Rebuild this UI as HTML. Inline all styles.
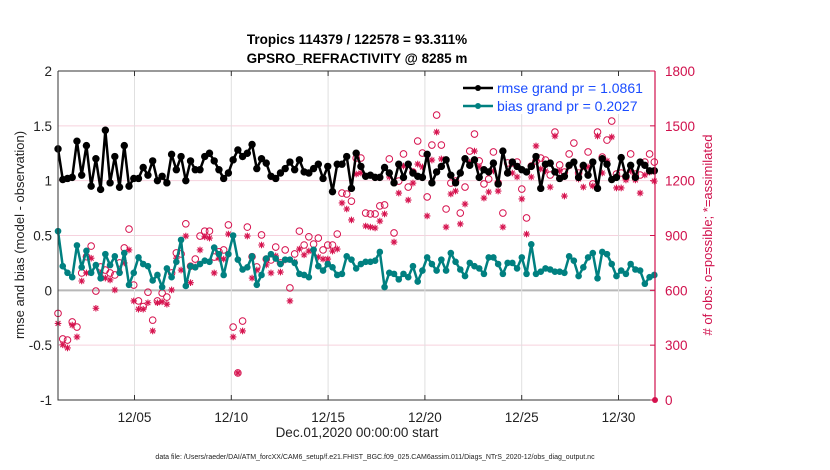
<!DOCTYPE html>
<html><head><meta charset="utf-8"><style>
html,body{margin:0;padding:0;background:#fff;}
svg{display:block;font-family:"Liberation Sans",Arial,sans-serif;}
</style></head><body>
<svg id="chart" width="830" height="470" viewBox="0 0 830 470" xmlns="http://www.w3.org/2000/svg">
<rect x="0" y="0" width="830" height="470" fill="#fff"/>
<rect x="58" y="71" width="597" height="329" fill="#fff" stroke="none"/>
<g id="grid"></g>
<g id="obs"></g>
<g id="series"></g>
<g id="axes"></g>
<text x="357" y="44" text-anchor="middle" font-size="13.5" font-weight="bold">Tropics 114379 / 122578 = 93.311%</text>
<text x="357" y="63" text-anchor="middle" font-size="13.5" font-weight="bold">GPSRO_REFRACTIVITY @ 8285 m</text>
<text transform="translate(24,235) rotate(-90)" text-anchor="middle" font-size="13" fill="#222">rmse and bias (model - observation)</text>
<text transform="translate(712,235) rotate(-90)" text-anchor="middle" font-size="13" fill="#d0104c"># of obs: o=possible; *=assimilated</text>
<text x="357" y="437" text-anchor="middle" font-size="13.5" fill="#222">Dec.01,2020 00:00:00 start</text>
<text x="375" y="459" text-anchor="middle" font-size="7" fill="#222">data file: /Users/raeder/DAI/ATM_forcXX/CAM6_setup/f.e21.FHIST_BGC.f09_025.CAM6assim.011/Diags_NTrS_2020-12/obs_diag_output.nc</text>
<g>
<rect x="462" y="76" width="190" height="38" fill="#fff"/>
<g>
<line x1="463" y1="88" x2="493" y2="88" stroke="#000" stroke-width="2.5"/>
<circle cx="478" cy="88" r="3" fill="#000"/>
<text x="497" y="93" font-size="14" fill="#1a4cff">rmse grand pr = 1.0861</text>
</g>
<g>
<line x1="463" y1="106" x2="493" y2="106" stroke="#008080" stroke-width="2.5"/>
<circle cx="478" cy="106" r="3" fill="#008080"/>
<text x="497" y="111" font-size="14" fill="#1a4cff">bias grand pr = 0.2027</text>
</g>
</g>
</svg>
<script>
const rmse=[1.29,1.01,1.02,1.03,1.36,1.05,1.32,0.95,1.2,0.92,1.46,0.98,1.22,0.94,1.32,0.95,1.02,1.02,1.12,1.05,1.18,1.0,1.04,0.98,1.24,1.1,1.22,1.0,1.18,1.1,1.1,1.22,
1.25,1.18,1.1,1.02,1.07,1.19,1.28,1.22,1.25,1.33,1.11,1.2,1.16,1.04,1.02,1.07,1.11,1.17,1.1,1.19,1.08,1.07,1.11,1.15,1.02,1.13,0.9,1.15,1.15,1.22,0.93,1.25,
1.13,1.04,1.05,1.03,1.03,1.12,1.07,0.98,1.15,1.03,1.15,1.07,1.04,1.03,1.24,0.98,1.08,1.13,1.19,1.05,0.98,1.07,1.2,1.14,1.19,1.03,1.1,1.08,1.16,0.97,1.27,1.07,
1.17,1.13,1.1,1.08,1.13,1.22,0.93,1.15,1.16,1.08,1.02,1.04,1.14,1.17,1.03,1.14,1.05,1.17,0.93,1.2,1.15,1.01,1.03,1.21,1.04,1.14,1.03,1.17,1.14,1.09,1.09];
const bias=[0.54,0.22,0.16,0.12,0.41,0.21,0.36,0.16,0.23,0.11,0.33,0.23,0.31,0.16,0.34,0.05,0.16,0.3,0.24,0.22,0.09,0.14,0.03,0.2,0.12,0.26,0.46,0.04,0.22,0.21,0.24,0.27,
0.26,0.39,0.33,0.14,0.33,0.5,0.28,0.19,0.21,0.31,0.05,0.14,0.29,0.33,0.29,0.24,0.28,0.28,0.25,0.15,0.14,0.12,0.37,0.22,0.18,0.24,0.21,0.14,0.15,0.31,0.28,0.2,
0.24,0.26,0.26,0.27,0.35,0.03,0.16,0.15,0.1,0.15,0.12,0.22,0.08,0.18,0.3,0.24,0.18,0.28,0.18,0.34,0.26,0.19,0.13,0.25,0.22,0.2,0.15,0.3,0.3,0.24,0.15,0.25,
0.25,0.2,0.3,0.15,0.42,0.15,0.17,0.2,0.19,0.17,0.17,0.16,0.31,0.27,0.13,0.21,0.3,0.34,0.11,0.35,0.33,0.24,0.13,0.18,0.15,0.24,0.19,0.18,0.06,0.12,0.14];
const possible=[474,334,328,427,399,695,784,842,596,728,711,695,684,750,832,935,629,542,511,590,437,542,585,563,695,805,799,964,732,771,897,924,
924,782,811,821,958,399,148,432,946,784,728,903,771,766,837,750,821,613,799,924,848,893,853,886,821,848,848,908,1132,1127,1088,1324,
1324,1023,1018,1018,1062,1067,1319,914,1198,1346,1165,1247,1417,1351,1111,1395,1559,1395,1045,1187,1198,1023,1165,1362,1455,1308,1182,1209,1357,1187,1023,1297,
1297,1302,1154,996,1280,1308,1324,1313,1231,1466,1286,1247,1346,1406,1242,1280,1357,1182,1466,1329,1422,1526,1236,1242,1220,1346,1236,1231,1302,1346,1302];
const assimilated=[419,302,285,410,345,651,695,776,502,695,667,657,602,700,750,821,542,497,497,532,378,532,537,524,602,776,711,897,642,728,821,893,
886,695,776,771,908,345,148,378,897,667,711,848,739,695,788,700,766,542,755,826,794,815,821,782,771,771,815,826,1078,1045,985,1236,
1242,952,946,941,979,1018,1220,864,1132,1280,1094,1187,1291,1275,1007,1313,1466,1319,946,1127,1143,963,1072,1302,1362,1275,1105,1138,1253,1143,946,1242,
1242,1220,1100,908,1220,1390,1264,1253,1165,1444,1253,1116,1280,1302,1209,1165,1275,1171,1444,1242,1308,1439,1160,1160,1204,1253,1204,1132,1231,1247,1198];
const xTickLabels=["12/05","12/10","12/15","12/20","12/25","12/30"];
const xTickDays=[4,9,14,19,24,29];
const yTicks=[2,1.5,1,0.5,0,-0.5,-1];
const yRightTicks=[0,300,600,900,1200,1500,1800];

const NS="http://www.w3.org/2000/svg";
const L=58,R=655,T=71,B=400;
const xDay=d=>134.5+(d-4)*19.36;
const yL=v=>T+(2-v)/3*(B-T);
const yR=v=>B-v/1800*(B-T);
const n=bias.length;
const tDay=i=>0.05+i*(30.8/(n-1));
function mk(tag,attrs,parent){const e=document.createElementNS(NS,tag);for(const k in attrs)e.setAttribute(k,attrs[k]);parent.appendChild(e);return e;}
const grid=document.getElementById('grid'),axes=document.getElementById('axes'),obs=document.getElementById('obs'),ser=document.getElementById('series');
yTicks.forEach(v=>{if(v===2||v===-1)return;const g=mk('line',{x1:L,x2:R,y1:yL(v),y2:yL(v),stroke:v===0?'#b8b8b8':'#f6d2de','stroke-width':v===0?2:1},grid);

});
xTickDays.forEach((d,i)=>{const g=mk('line',{x1:xDay(d),x2:xDay(d),y1:T,y2:B,stroke:'#e0e0e0','stroke-width':1},grid);


const t=mk('line',{x1:xDay(d),x2:xDay(d),y1:B,y2:B-5,stroke:'#333'},axes);


const t2=mk('line',{x1:xDay(d),x2:xDay(d),y1:T,y2:T+5,stroke:'#333'},axes);


const lb=mk('text',{x:xDay(d),y:B+22,'text-anchor':'middle','font-size':13.5,fill:'#222'},axes);lb.textContent=xTickLabels[i];

});
const fr=mk('path',{d:`M${L},${T}H${R}M${L},${T}V${B}H${R}`,fill:'none',stroke:'#333','stroke-width':1},axes);


const ra=mk('line',{x1:R,x2:R,y1:T,y2:B,stroke:'#d0104c','stroke-width':1.2},axes);


yTicks.forEach(v=>{const lb=mk('text',{x:L-6,y:yL(v)+5,'text-anchor':'end','font-size':13.5,fill:'#222'},axes);lb.textContent=String(v);

});
yRightTicks.forEach(v=>{const tk=mk('line',{x1:R,x2:R-5,y1:yR(v),y2:yR(v),stroke:'#d0104c'},axes);


const lb=mk('text',{x:R+10,y:yR(v)+5,'font-size':13.5,fill:'#d0104c'},axes);lb.textContent=String(v);

});
const C='#d6124e';
for(let i=0;i<n;i++){const x=xDay(tDay(i));
const c=mk('circle',{cx:x,cy:yR(possible[i]),r:3.3,fill:'none',stroke:C,'stroke-width':1},obs);


const y=yR(assimilated[i]),s=3.3,d2=2.4;
const a=mk('path',{d:`M${x-s},${y}H${x+s}M${x},${y-s}V${y+s}M${x-d2},${y-d2}L${x+d2},${y+d2}M${x-d2},${y+d2}L${x+d2},${y-d2}`,stroke:C,'stroke-width':1.1,fill:'none'},obs);

}
const endm=mk('circle',{cx:R,cy:B,r:3,fill:C},obs);


function drawSeries(vals,color,name,r){let d='';vals.forEach((v,i)=>{d+=(i?'L':'M')+xDay(tDay(i)).toFixed(2)+','+yL(v).toFixed(2);});
const p=mk('path',{d:d,fill:'none',stroke:color,'stroke-width':2.5,'stroke-linejoin':'round'},ser);


vals.forEach((v,i)=>{const c=mk('circle',{cx:xDay(tDay(i)),cy:yL(v),r:r,fill:color},ser);

});}
drawSeries(bias,'#008080','bias',3.3);
drawSeries(rmse,'#000','rmse',3.7);
</script>
</body></html>
